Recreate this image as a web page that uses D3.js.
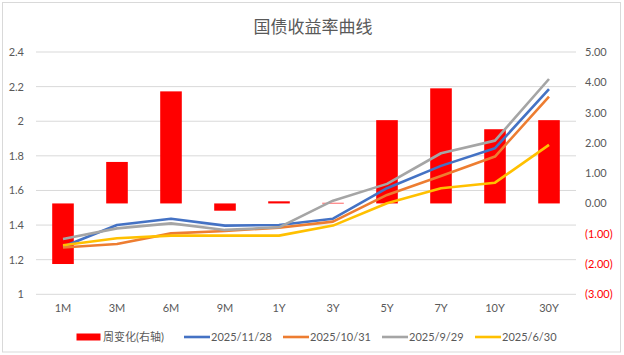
<!DOCTYPE html>
<html><head><meta charset="utf-8">
<script src="https://cdn.jsdelivr.net/npm/d3@7"></script>
<style>
body{margin:0;background:#fff;}
text{font-family:Lato,"Noto Sans CJK SC",sans-serif;}
</style></head><body>
<svg id="c" width="624" height="355"></svg>
<script>
const categories = ["1M","3M","6M","9M","1Y","3Y","5Y","7Y","10Y","30Y"];
const weeklyChange = [-2.0, 1.37, 3.7, -0.24, 0.07, 0.02, 2.75, 3.8, 2.45, 2.75];
const y20251128 = [1.275, 1.40, 1.437, 1.397, 1.40, 1.437, 1.613, 1.742, 1.844, 2.185];
const y20251031 = [1.27, 1.291, 1.352, 1.366, 1.385, 1.42, 1.574, 1.684, 1.796, 2.142];
const y20250929 = [1.32, 1.381, 1.41, 1.372, 1.387, 1.541, 1.638, 1.815, 1.888, 2.244];
const y20250630 = [1.283, 1.324, 1.339, 1.339, 1.339, 1.397, 1.526, 1.613, 1.645, 1.863];
const leftTicks = [1, 1.2, 1.4, 1.6, 1.8, 2, 2.2, 2.4];
const rightTicks = [-3, -2, -1, 0, 1, 2, 3, 4, 5];
const seriesNames = ["2025/11/28","2025/10/31","2025/9/29","2025/6/30"];
const barName = "周变化(右轴)";
const title = "国债收益率曲线";

const series = [
  {name: seriesNames[0], values: y20251128, color: "#4472C4"},
  {name: seriesNames[1], values: y20251031, color: "#ED7D31"},
  {name: seriesNames[2], values: y20250929, color: "#A5A5A5"},
  {name: seriesNames[3], values: y20250630, color: "#FFC000"}
];

const svg = d3.select("#c");
svg.append("rect").attr("x",2.5).attr("y",2.5).attr("width",618).attr("height",349.5)
  .attr("fill","#fff").attr("stroke","#d9d9d9").attr("stroke-width",1);

const L = 36, R = 576, T = 52, B = 294.3;
const x = d3.scaleBand().domain(categories).range([L, R]).paddingInner(0.6).paddingOuter(0.3);
const xc = d => x(d) + x.bandwidth()/2;
const yL = d3.scaleLinear().domain([1, 2.4]).range([B, T]);
const yR = d3.scaleLinear().domain([-3, 5]).range([B, T]);

svg.append("text").attr("x",313).attr("y",33).attr("text-anchor","middle")
  .attr("font-size",17).attr("fill","#595959").text(title);

// gridlines
svg.append("g").selectAll("line").data(leftTicks).join("line")
  .attr("x1",L).attr("x2",R).attr("y1",d=>yL(d)).attr("y2",d=>yL(d))
  .attr("stroke","#d9d9d9").attr("stroke-width",1);

// left axis
const gl = svg.append("g").attr("transform",`translate(${L},0)`)
  .call(d3.axisLeft(yL).tickValues(leftTicks).tickSize(0).tickPadding(12).tickFormat(d=>String(d)));
gl.select(".domain").remove();
gl.selectAll("text").attr("font-size",11).attr("fill","#595959");

// right axis
const fmt = d3.format(".2f");
const gr = svg.append("g").attr("transform",`translate(${R},0)`)
  .call(d3.axisRight(yR).tickValues(rightTicks).tickSize(0).tickPadding(9)
    .tickFormat(d => d < 0 ? "(" + fmt(-d) + ")" : fmt(d)));
gr.select(".domain").remove();
gr.selectAll("text").attr("font-size",11).attr("fill", d => d < 0 ? "#FF0000" : "#595959");

// x axis
const gx = svg.append("g").attr("transform",`translate(0,${B})`)
  .call(d3.axisBottom(x).tickSize(0).tickPadding(10));
gx.select(".domain").remove();
gx.selectAll("text").attr("font-size",11).attr("fill","#595959");

// bars
svg.append("g").selectAll("rect").data(categories).join("rect")
  .attr("x", d => x(d)).attr("width", x.bandwidth())
  .attr("y", (d,i) => yR(Math.max(0, weeklyChange[i])))
  .attr("height", (d,i) => Math.abs(yR(weeklyChange[i]) - yR(0)))
  .attr("fill","#FF0000");

// lines
const line = d3.line().x((d,i)=>xc(categories[i])).y(d=>yL(d));
svg.append("g").selectAll("path").data(series).join("path")
  .attr("d", s => line(s.values)).attr("fill","none")
  .attr("stroke", s => s.color).attr("stroke-width",2.6).attr("stroke-linejoin","round");

// legend
const lg = svg.append("g");
const ly = 337;
lg.append("rect").attr("x",76.5).attr("y",ly-3.5).attr("width",24).attr("height",7).attr("fill","#FF0000");
lg.append("text").attr("x",103).attr("y",ly+4).attr("font-size",11).attr("fill","#595959").text(barName);
const lx = [184, 283, 382, 475];
series.forEach((s,i) => {
  lg.append("line").attr("x1",lx[i]).attr("x2",lx[i]+26).attr("y1",ly).attr("y2",ly)
    .attr("stroke",s.color).attr("stroke-width",2.6);
  lg.append("text").attr("x",lx[i]+27).attr("y",ly+4).attr("font-size",11).attr("fill","#595959").text(s.name);
});
</script></body></html>
